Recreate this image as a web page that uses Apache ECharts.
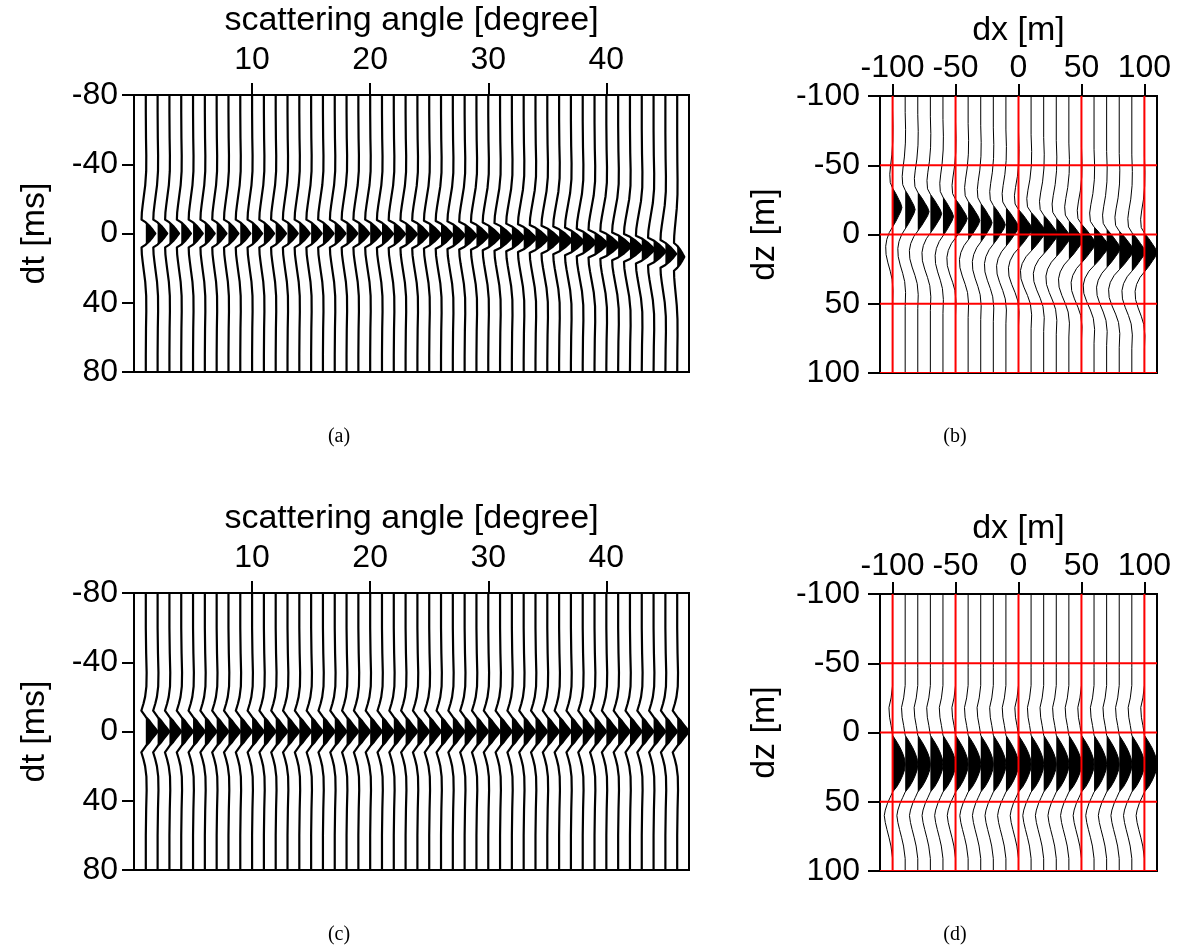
<!DOCTYPE html>
<html><head><meta charset="utf-8">
<script src="https://cdn.jsdelivr.net/npm/echarts@6/dist/echarts.min.js"></script>
<style>html,body{margin:0;padding:0;background:#fff}#c{width:1181px;height:952px}</style>
</head><body><div id="c"></div>
<script>
// ===== data =====
// panel (a)/(c): trace positions in scattering angle [degree]
const anglesA = [1,2,3,4,5,6,7,8,9,10,11,12,13,14,15,16,17,18,19,20,21,22,23,24,25,26,27,28,29,30,31,32,33,34,35,36,37,38,39,40,41,42,43,44,45,46];
// event time shift per trace [ms]
const shiftA = [0,0,0,0,0,0,0,0,0,0,0,0,0,0,0,0,0,0,0,0,0.2,0.3,0.4,0.5,0.6,0.8,1.0,1.2,1.4,1.7,2.0,2.3,2.7,3.1,3.5,4.0,4.6,5.2,5.9,6.6,7.4,8.3,9.3,10.4,11.8,13.5];
// peak amplitude per trace [degree]
const ampA = [0.8,0.81,0.81,0.82,0.82,0.83,0.83,0.84,0.85,0.85,0.86,0.87,0.87,0.88,0.89,0.9,0.91,0.92,0.93,0.94,0.95,0.96,0.97,0.98,0.99,1.0,1.01,1.02,1.03,1.04,1.05,1.06,1.07,1.08,1.09,1.1,1.11,1.12,1.13,1.13,1.13,1.12,1.1,1.04,0.92,0.6];
// wavelet of (a): time offset [ms] and relative amplitude
const waveAt = [-120,-70,-55,-45,-36,-28,-22,-16,-12,-8,-6.4,-4,-2,0,2,4,6.4,8,12,16,22,28,36,45,55,70,120];
const waveAa = [0,0,0.02,0.05,0.04,-0.06,-0.2,-0.34,-0.42,-0.45,0,0.45,0.74,1,0.74,0.45,0,-0.45,-0.42,-0.34,-0.2,-0.06,0.04,0.05,0.02,0,0];

const anglesC = [1,2,3,4,5,6,7,8,9,10,11,12,13,14,15,16,17,18,19,20,21,22,23,24,25,26,27,28,29,30,31,32,33,34,35,36,37,38,39,40,41,42,43,44,45,46];
const shiftC = [0,0,0,0,0,0,0,0,0,0,0,0,0,0,0,0,0,0,0,0,0,0,0,0,0,0,0,0,0,0,0,0,0,0,0,0,0,0,0,0,0,0,0,0,0,0];
const ampC = [1,1,1,1,1,1,1,1,1,1,1,1,1,1,1,1,1,1,1,1,1,1,1,1,1,1,1,1,1,1,1,1,1,1,1,1,1,1,1,1,1,1,1,1,1,1];
const waveCt = [-120,-60,-45,-34,-26,-20,-16,-12,-8.4,-6,-4,-2,0,2,4,6,8.4,12,16,20,26,34,45,60,120];
const waveCa = [0,0,0.03,0.07,0.05,-0.06,-0.2,-0.38,0,0.32,0.54,0.77,1,0.77,0.54,0.32,0,-0.38,-0.2,-0.06,0.05,0.07,0.03,0,0];

// panel (b)/(d): trace positions dx [m]
const dxB = [-100,-90,-80,-70,-60,-50,-40,-30,-20,-10,0,10,20,30,40,50,60,70,80,90,100];
const shiftB = [-19.5,-18,-16.5,-15,-13,-11.5,-10,-8.5,-7,-5.5,-4,-2,0,2,4,6.5,8.5,10,11.5,12.5,13];
const ampB = [7.4,7.9,9.0,9.0,8.4,9.3,9.3,9.0,9.5,10.0,10.8,11.4,11.1,11.1,11.1,11.1,11.6,10.8,11.4,10.6,10.0];
const waveBt = [-130,-70,-58,-48,-38,-30,-24,-18,-14,-10,-6,-3,0,3,6,10,14,18,23,28,34,40,46,52,60,70,130];
const waveBa = [0,0,0.04,0.02,-0.08,-0.22,-0.3,-0.25,0,0.35,0.65,0.87,1,0.87,0.65,0.35,0,-0.35,-0.62,-0.74,-0.7,-0.5,-0.25,-0.05,0.04,0,0];

const dxD = [-100,-90,-80,-70,-60,-50,-40,-30,-20,-10,0,10,20,30,40,50,60,70,80,90,100];
const shiftD = [23,23,23,23,23,23,23,23,23,23,23,23,23,23,23,23,23,23,23,23,23];
const ampD = [10,10,10,10,10,10,10,10,10,10,10,10,10,10,10,10,10,10,10,10,10];
const waveDt = [-130,-70,-57,-48,-41,-34,-28,-24,-21,-16,-12,-8,-4,0,4,8,12,16,20,24,28,33,37,42,47,53,59,68,130];
const waveDa = [0,0,0,-0.12,-0.29,-0.24,-0.12,-0.05,0,0.35,0.6,0.8,0.95,1,0.95,0.8,0.6,0.35,0,-0.2,-0.4,-0.58,-0.66,-0.58,-0.45,-0.28,-0.13,0,0];

// axes / ticks
const ticksAngle = [10,20,30,40];
const ticksDt = [-80,-40,0,40,80];
const ticksDx = [-100,-50,0,50,100];
const ticksDz = [-100,-50,0,50,100];
const redX = [-100,-50,0,50,100];
const redY = [-50,0,50,100];
const captions = ['(a)','(b)','(c)','(d)'];

// ===== chart =====
const FF = '"Liberation Sans", Arial, Helvetica, sans-serif';
const chart = echarts.init(document.getElementById('c'), null, {renderer:'canvas', width:1181, height:952});

function wiggle(gi, bases, shifts, amps, wt, wa, lw) {
  let pk = 0;
  for (let k = 1; k < wa.length; k++) if (wa[k] > wa[pk]) pk = k;
  let s = pk; while (s > 0 && wa[s-1] > 0) s--;
  let e = pk; while (e < wa.length-1 && wa[e+1] > 0) e++;
  return {
    type:'custom', xAxisIndex:gi, yAxisIndex:gi, clip:true, z:2, silent:true,
    data: bases.map((b,i)=>[b, shifts[i], amps[i]]),
    renderItem: function(params, api) {
      const base = api.value(0), sh = api.value(1), amp = api.value(2);
      const pts = [];
      for (let k = 0; k < wt.length; k++) pts.push(api.coord([base + amp*wa[k], wt[k] + sh]));
      const poly = [];
      for (let k = s-1; k <= e+1; k++) poly.push(api.coord([base + amp*Math.max(wa[k],0), wt[k] + sh]));
      return {type:'group', children:[
        {type:'polygon', shape:{points:poly}, style:{fill:'#000', stroke:null}},
        {type:'polyline', shape:{points:pts}, style:{stroke:'#000', lineWidth:lw, fill:null, lineJoin:'round'}}
      ]};
    }
  };
}
function redLines(gi, xs, ys, ymin, ymax, xmin, xmax) {
  const data = xs.map(v=>[v, 0, 0]).concat(ys.map(v=>[0, v, 1]));
  return {
    type:'custom', xAxisIndex:gi, yAxisIndex:gi, z:3, silent:true, clip:true,
    data: data,
    renderItem: function(params, api) {
      const v0 = api.value(0), v1 = api.value(1), kind = api.value(2);
      let a, b;
      if (kind === 0) { a = api.coord([v0, ymin]); b = api.coord([v0, ymax]); }
      else { a = api.coord([xmin, v1]); b = api.coord([xmax, v1]); }
      return {type:'line', shape:{x1:a[0], y1:a[1], x2:b[0], y2:b[1]}, style:{stroke:'#ff0000', lineWidth:2}};
    }
  };
}
function xAx(gi, min, max, ticks, name, margin, gap) {
  return {gridIndex:gi, type:'value', position:'top', min:min, max:max,
    name:name, nameLocation:'middle', nameGap:gap,
    nameTextStyle:{fontFamily:FF, fontSize:34, color:'#000'},
    axisLine:{show:true, onZero:false, lineStyle:{color:'#000', width:2}},
    axisTick:{show:true, length:12, customValues:ticks, lineStyle:{color:'#000', width:2}},
    axisLabel:{show:true, customValues:ticks, fontFamily:FF, fontSize:32, color:'#000', margin:margin},
    splitLine:{show:false}};
}
function yAx(gi, min, max, ticks, name, margin, gap) {
  return {gridIndex:gi, type:'value', inverse:true, min:min, max:max,
    name:name, nameLocation:'middle', nameGap:gap, nameRotate:90,
    nameTextStyle:{fontFamily:FF, fontSize:34, color:'#000'},
    axisLine:{show:true, onZero:false, lineStyle:{color:'#000', width:2}},
    axisTick:{show:true, length:12, customValues:ticks, lineStyle:{color:'#000', width:2}},
    axisLabel:{show:true, customValues:ticks, fontFamily:FF, fontSize:32, color:'#000', margin:margin},
    splitLine:{show:false}};
}
const gridStyle = {show:true, borderColor:'#000', borderWidth:2, backgroundColor:'transparent'};
const capPos = [[339,437],[955,437],[339,935],[955,935]];

chart.setOption({
  animation:false,
  backgroundColor:'#fff',
  grid:[
    Object.assign({left:134, top:95, width:555, height:277}, gridStyle),
    Object.assign({left:880, top:96, width:277, height:277}, gridStyle),
    Object.assign({left:134, top:593, width:555, height:277}, gridStyle),
    Object.assign({left:880, top:594, width:277, height:277}, gridStyle)
  ],
  xAxis:[
    xAx(0, 0, 47, ticksAngle, 'scattering angle [degree]', 19, 57),
    xAx(1, -110, 110, ticksDx, 'dx [m]', 12, 48),
    xAx(2, 0, 47, ticksAngle, 'scattering angle [degree]', 19, 57),
    xAx(3, -110, 110, ticksDx, 'dx [m]', 12, 48)
  ],
  yAxis:[
    yAx(0, -80, 80, ticksDt, 'dt [ms]', 16, 82),
    yAx(1, -100, 100, ticksDz, 'dz [m]', 20, 98),
    yAx(2, -80, 80, ticksDt, 'dt [ms]', 16, 82),
    yAx(3, -100, 100, ticksDz, 'dz [m]', 20, 98)
  ],
  series:[
    wiggle(0, anglesA, shiftA, ampA, waveAt, waveAa, 2.2),
    wiggle(1, dxB, shiftB, ampB, waveBt, waveBa, 1),
    redLines(1, redX, redY, -100, 100, -110, 110),
    wiggle(2, anglesC, shiftC, ampC, waveCt, waveCa, 2.2),
    wiggle(3, dxD, shiftD, ampD, waveDt, waveDa, 1),
    redLines(3, redX, redY, -100, 100, -110, 110)
  ],
  graphic: captions.map((t,i)=>({type:'text', x:capPos[i][0], y:capPos[i][1], silent:true,
    style:{text:t, fontFamily:'"Liberation Serif", "Times New Roman", serif', fontSize:20, textAlign:'center', textVerticalAlign:'middle', fill:'#000'}}))
});
</script>
</body></html>
